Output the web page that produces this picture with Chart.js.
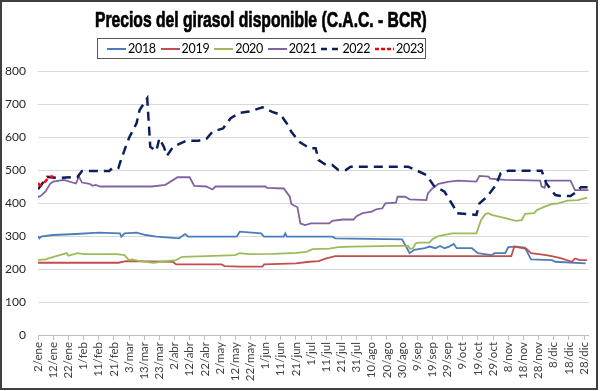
<!DOCTYPE html>
<html>
<head>
<meta charset="utf-8">
<script src="https://cdn.jsdelivr.net/npm/chart.js@4.4.0/dist/chart.umd.min.js"></script>
<style>
  html, body { margin: 0; padding: 0; background: #fff; }
  #frame { position: relative; width: 600px; height: 391px; overflow: hidden; }
  #frame canvas { position: absolute; left: 0; top: 0; }
  #border { position: absolute; left: 0; top: 0; width: 598px; height: 390px; box-sizing: border-box; border: 2px solid #404040; pointer-events: none; }
  #title { position: absolute; left: 0; top: 7px; width: 522px; text-align: center; line-height: 24px; white-space: nowrap; }
  #title span { display: inline-block; font: bold 22px "Liberation Sans", Arial, sans-serif; color: #000;
    -webkit-text-stroke: 0.7px #000; transform-origin: 50% 50%; }
  #legend { position: absolute; left: 97px; top: 38px; width: 329px; height: 21px; box-sizing: border-box;
    border: 1px solid #595959; font: 12.5px Lato, "Open Sans", sans-serif; color: #000; }
  #legend .item { position: absolute; top: 0; height: 19px; display: flex; align-items: center; gap: 2px; letter-spacing: -0.3px; }
  #legend svg { display: block; }
</style>
</head>
<body>
<div id="frame">
  <canvas id="chart" width="600" height="391"></canvas>
  <div id="title"><span>Precios del girasol disponible (C.A.C. - BCR)</span></div>
  <div id="legend"></div>
  <div id="border"></div>
</div>
<script>
// x = days after 2/ene, y = price
const tickLabels = ['2/ene', '12/ene', '22/ene', '1/feb', '11/feb', '21/feb', '3/mar', '13/mar', '23/mar',
  '2/abr', '12/abr', '22/abr', '2/may', '12/may', '22/may', '1/jun', '11/jun', '21/jun', '1/jul', '11/jul',
  '21/jul', '31/jul', '10/ago', '20/ago', '30/ago', '9/sep', '19/sep', '29/sep', '9/oct', '19/oct', '29/oct',
  '8/nov', '18/nov', '28/nov', '8/dic', '18/dic', '28/dic'];

const s2018 = [[0,300],[1,293],[2,298],[10,303],[25,306],[40,310],[54,308],[55,298],[57,308],[65,310],[71,303],
  [78,298],[93,293],[97,306],[99,298],[131,298],[133,313],[147,308],[149,298],[162,298],[163,308],[164,298],
  [194,298],[196,293],[240,290],[245,248],[248,258],[255,263],[258,268],[262,263],[265,270],[268,263],[271,268],
  [274,276],[276,263],[286,263],[290,248],[299,242],[301,248],[308,248],[310,266],[315,268],[321,265],[325,229],
  [339,227],[341,222],[361,217]];

const s2019 = [[0,219],[53,219],[58,224],[89,222],[91,214],[121,214],[123,209],[133,207],[148,207],[149,214],
  [170,217],[179,222],[185,224],[190,232],[196,239],[312,239],[314,268],[322,261],[325,248],[335,242],[341,237],
  [345,232],[352,222],[354,232],[357,227],[362,227]];

const s2020 = [[0,227],[5,229],[8,234],[12,239],[19,248],[20,240],[26,248],[30,245],[52,245],[57,242],[58,237],
  [60,227],[62,229],[67,224],[76,219],[85,224],[91,227],[95,237],[111,239],[130,242],[133,248],[139,245],
  [155,246],[170,249],[177,252],[181,260],[192,262],[198,266],[207,268],[236,270],[244,270],[245,262],[247,262],
  [249,278],[251,280],[258,280],[260,290],[264,300],[273,308],[289,308],[292,348],[295,367],[297,369],[299,364],
  [308,354],[315,346],[319,348],[321,367],[327,369],[329,379],[334,389],[339,397],[343,399],[349,407],[356,409],
  [362,416]];

const s2021 = [[0,418],[2,422],[5,435],[8,458],[10,465],[17,470],[25,459],[27,480],[29,462],[34,458],[36,452],
  [38,455],[41,450],[75,450],[84,455],[92,478],[100,478],[103,452],[111,450],[115,441],[117,450],[150,450],
  [151,446],[162,444],[166,419],[167,397],[171,387],[173,338],[176,333],[180,338],[192,338],[194,346],[201,350],
  [208,350],[210,360],[214,369],[220,374],[223,381],[227,384],[229,399],[236,401],[237,419],[242,419],[245,411],
  [256,409],[257,429],[260,444],[264,458],[271,465],[277,468],[289,465],[291,482],[297,480],[298,474],[308,470],
  [331,468],[332,450],[334,446],[335,468],[351,468],[354,439],[363,439]];

const s2022 = [[0,442],[6,479],[13,476],[26,479],[29,497],[47,497],[49,506],[53,506],[54,521],[57,560],[60,597],
  [65,642],[67,682],[72,717],[74,570],[78,558],[80,596],[83,570],[85,543],[89,570],[98,589],[106,589],[111,594],
  [115,616],[122,626],[127,657],[133,673],[139,677],[148,690],[154,677],[160,667],[164,641],[167,616],[172,586],
  [179,566],[183,566],[185,530],[190,515],[194,515],[198,500],[203,500],[206,510],[244,510],[249,500],[256,485],
  [261,452],[268,434],[274,389],[276,369],[289,364],[291,399],[296,419],[302,455],[305,490],[310,498],[332,498],
  [335,460],[341,424],[345,421],[351,421],[355,434],[358,448],[363,448]];

const s2023 = [[0,460],[1,455],[2,453],[5,466],[7,478],[9,480],[10,480]];

const years = ['2018', '2019', '2020', '2021', '2022', '2023'];
const colors = ['#4A7EBB', '#C0504D', '#9BBB59', '#8064A2', '#0C1F5C', '#FF0000'];
const dashes = [[], [], [], [], [9, 6], [5, 3]];
const widths = [1.8, 1.8, 1.8, 1.8, 2.5, 2.5];
const series = [s2018, s2019, s2020, s2021, s2022, s2023];

const datasets = series.map((s, i) => ({
  label: years[i],
  data: s.map(([x, y]) => ({ x, y })),
  borderColor: colors[i],
  borderWidth: widths[i],
  borderDash: dashes[i],
  pointRadius: 0,
  tension: 0,
  order: years.length - 1 - i
}));

new Chart(document.getElementById('chart'), {
  type: 'line',
  data: { datasets },
  options: {
    responsive: false,
    animation: false,
    layout: { padding: { top: 71, right: 10, left: 0, bottom: 0 } },
    plugins: { legend: { display: false }, title: { display: false }, tooltip: { enabled: false } },
    scales: {
      x: {
        type: 'linear',
        min: 0,
        max: 363,
        afterBuildTicks: scale => { scale.ticks = tickLabels.map((_, i) => ({ value: i * 10 })); },
        afterFit: scale => { scale.height = 56; },
        ticks: {
          callback: v => tickLabels[v / 10],
          autoSkip: false,
          minRotation: 90,
          maxRotation: 90,
          padding: 2,
          color: '#404040',
          font: { family: "Lato, 'Open Sans', sans-serif", size: 11.5 }
        },
        grid: { drawOnChartArea: false, drawTicks: true, tickLength: 5, color: '#bfbfbf' },
        border: { display: true, color: '#bfbfbf' }
      },
      y: {
        min: 0,
        max: 800,
        afterFit: scale => { scale.width = 38; },
        ticks: {
          stepSize: 100,
          padding: 12,
          color: '#262626',
          font: { family: "Lato, 'Open Sans', sans-serif", size: 12 }
        },
        grid: { color: '#d9d9d9', drawTicks: false },
        border: { display: false }
      }
    }
  }
});

// squeeze the title to the narrow width of the original
const titleSpan = document.querySelector('#title span');
titleSpan.style.transform = `scaleX(${332 / titleSpan.offsetWidth})`;

// legend with a box, as in the sheet
const legendEl = document.getElementById('legend');
legendEl.innerHTML = years.map((y, i) => {
  const dash = dashes[i].length ? `stroke-dasharray="${i === 4 ? '6,5' : '4,2'}"` : '';
  return `<span class="item" style="left:${9 + i * 53.6}px"><svg width="19" height="4"><line x1="0" y1="2" x2="19" y2="2" stroke="${colors[i]}" stroke-width="${i >= 4 ? 2.5 : 2}" ${dash}/></svg><span>${y}</span></span>`;
}).join('');
</script>
</body>
</html>
